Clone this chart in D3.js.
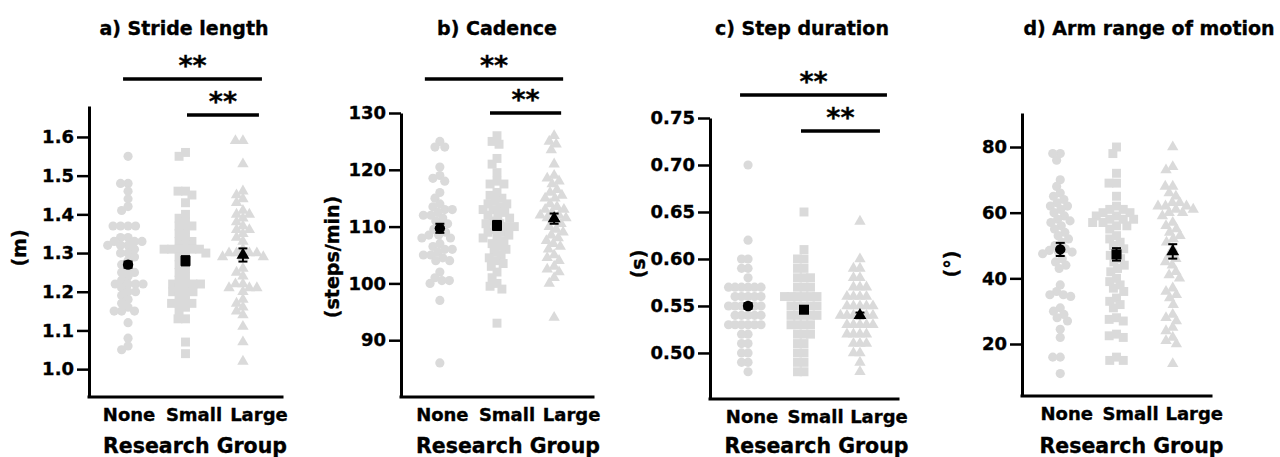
<!DOCTYPE html>
<meta charset="utf-8">
<html>
<head>
<style>
  body { margin: 0; background: #fff; }
  svg text { font-family: "DejaVu Sans", sans-serif; font-weight: bold; fill: #000; stroke: #000; stroke-width: 0.35px; }
</style>
</head>
<body>
<div id="chart"></div>
<script src="https://d3js.org/d3.v7.min.js"></script>
<script>
  var groups = ["None", "Small", "Large"];

  // a) stride length (m)
  var strideNone = [1.55, 1.48, 1.48, 1.46, 1.44, 1.42, 1.41, 1.37, 1.37, 1.37, 1.37, 1.34, 1.34, 1.33, 1.33, 1.33,
    1.32, 1.32, 1.32, 1.31, 1.30, 1.30, 1.29, 1.28, 1.27, 1.26, 1.25, 1.25, 1.24, 1.23, 1.22, 1.22, 1.22, 1.22,
    1.21, 1.20, 1.20, 1.19, 1.18, 1.17, 1.16, 1.15, 1.15, 1.15, 1.12, 1.08, 1.06, 1.05];
  var strideSmall = [1.56, 1.55, 1.46, 1.46, 1.45, 1.43, 1.40, 1.39, 1.38, 1.37, 1.37, 1.36, 1.35, 1.34, 1.33, 1.33,
    1.32, 1.31, 1.31, 1.31, 1.31, 1.31, 1.30, 1.30, 1.29, 1.28, 1.27, 1.26, 1.25, 1.24, 1.23, 1.22, 1.22, 1.22,
    1.22, 1.21, 1.20, 1.20, 1.20, 1.19, 1.18, 1.17, 1.17, 1.17, 1.16, 1.15, 1.13, 1.13, 1.07, 1.04];
  var strideLarge = [1.59, 1.59, 1.53, 1.46, 1.45, 1.44, 1.43, 1.41, 1.40, 1.40, 1.39, 1.38, 1.37, 1.36, 1.36, 1.35,
    1.34, 1.33, 1.31, 1.30, 1.30, 1.30, 1.30, 1.29, 1.29, 1.29, 1.26, 1.25, 1.24, 1.22, 1.22, 1.21, 1.21, 1.21,
    1.20, 1.18, 1.17, 1.16, 1.15, 1.14, 1.11, 1.07, 1.02];
  var strideMean = [1.27, 1.28, 1.295];
  var strideSem = [0.008, 0.012, 0.017];
  var strideTicks = [1.0, 1.1, 1.2, 1.3, 1.4, 1.5, 1.6];

  // b) cadence (steps/min)
  var cadNone = [125, 124, 124, 120.5, 119, 118.5, 118, 116, 115, 114, 113.5, 113, 113, 112.5, 112, 112, 111.5, 111,
    110.5, 110, 109.5, 109, 108.5, 108.5, 108, 108, 107, 106.5, 106, 106, 105.5, 105, 105, 104.5, 104, 104, 102,
    101, 100.5, 100.5, 100, 97, 86];
  var cadSmall = [126, 125, 124.5, 122, 121, 119.5, 118, 117.5, 117.5, 116, 115.5, 115, 114.5, 114, 114, 113.5, 113,
    113, 112.5, 112, 112, 111.5, 111, 110.5, 110.5, 110, 110, 109.5, 109, 109, 108.5, 108, 108, 107.5, 107, 106.5,
    106, 105.5, 105, 104.5, 104, 103.5, 103, 102, 101, 100, 99.5, 99, 93];
  var cadLarge = [126, 125, 124.5, 123.5, 121, 119, 118.5, 118, 117.5, 116.5, 116, 115.5, 115, 115, 114, 113.5, 113,
    113, 112.5, 112, 112, 111.5, 111.5, 111, 110.5, 110, 109.5, 109, 108.5, 108, 107.5, 107, 106.5, 106, 105,
    104.5, 104, 103, 102.5, 102, 101, 100, 94];
  var cadMean = [109.7, 110.2, 111.4];
  var cadSem = [0.8, 0.8, 0.9];
  var cadTicks = [90, 100, 110, 120, 130];

  // c) step duration (s)
  var durNone = [0.70, 0.62, 0.60, 0.60, 0.59, 0.59, 0.58, 0.57, 0.57, 0.57, 0.57, 0.57, 0.57, 0.56, 0.56, 0.56,
    0.56, 0.56, 0.55, 0.55, 0.55, 0.55, 0.55, 0.55, 0.54, 0.54, 0.54, 0.54, 0.54, 0.53, 0.53, 0.53, 0.53, 0.53,
    0.53, 0.52, 0.52, 0.51, 0.51, 0.50, 0.50, 0.49, 0.49, 0.48];
  var durSmall = [0.65, 0.61, 0.60, 0.60, 0.59, 0.59, 0.58, 0.58, 0.58, 0.57, 0.57, 0.57, 0.56, 0.56, 0.56, 0.56,
    0.56, 0.56, 0.55, 0.55, 0.55, 0.55, 0.55, 0.54, 0.54, 0.54, 0.54, 0.54, 0.53, 0.53, 0.53, 0.53, 0.52, 0.52,
    0.52, 0.51, 0.51, 0.50, 0.50, 0.49, 0.49, 0.48, 0.48];
  var durLarge = [0.64, 0.60, 0.59, 0.59, 0.58, 0.58, 0.57, 0.57, 0.57, 0.56, 0.56, 0.56, 0.56, 0.55, 0.55, 0.55,
    0.55, 0.55, 0.54, 0.54, 0.54, 0.54, 0.54, 0.54, 0.53, 0.53, 0.53, 0.53, 0.53, 0.52, 0.52, 0.52, 0.52, 0.51,
    0.51, 0.51, 0.50, 0.50, 0.49, 0.48];
  var durMean = [0.550, 0.546, 0.540];
  var durSem = [0.003, 0.003, 0.003];
  var durTicks = [0.50, 0.55, 0.60, 0.65, 0.70, 0.75];

  // d) arm range of motion (deg)
  var armNone = [78, 78, 76, 70, 68, 66, 65, 64, 63, 62, 62, 61, 60, 59, 58, 57.5, 57, 56, 55, 54, 53, 52, 51, 50,
    49, 48.5, 48, 48, 47.5, 46, 45, 44, 43, 38, 36, 35, 35, 34.5, 31, 30, 29, 28, 27, 24.5, 22, 16, 16, 11];
  var armSmall = [80, 78, 72, 69, 69, 65, 62, 61, 61, 60, 60, 59, 59, 58, 58, 58, 57, 57, 56, 56, 55, 53, 52, 51,
    50, 49, 48, 47, 46, 45, 44, 43, 42, 40, 39, 38, 37, 36, 34, 33, 32, 31, 28, 27.5, 27, 23, 22.5, 22, 16, 15, 15];
  var armLarge = [80, 74, 73, 68, 68, 66, 65, 63, 63, 62, 62, 62, 61, 61, 60, 60, 59, 57, 56, 55, 54, 53, 52, 51,
    49, 47, 46, 45, 44, 42, 41, 40, 37, 36, 35, 34, 32, 29, 28, 27, 25, 24, 22, 21, 20, 14];
  var armMean = [48.8, 47.3, 48.2];
  var armSem = [2.0, 1.9, 2.2];
  var armTicks = [20, 40, 60, 80];

  var panels = [
    { title: "a) Stride length", titleX: 184, yLabel: "(m)", yLabelX: 19, yLabelY: 248,
      left: 89, right: 282, top: 106, bottom: 397, domain: [0.928, 1.68],
      ticks: strideTicks, fmt: d3.format(".1f"), labShift: 1, gap: 7.5,
      values: [strideNone, strideSmall, strideLarge], mean: strideMean, sem: strideSem,
      sig: [{ a: "None", b: "Large", level: 1.75, dl: -5, dr: 19 },
            { a: "Small", b: "Large", level: 1.657, dl: 1.5, dr: 16 }] },
    { title: "b) Cadence", titleX: 497, yLabel: "(steps/min)", yLabelX: 332, yLabelY: 257,
      left: 401, right: 593, top: 113, bottom: 397, domain: [80, 130],
      ticks: cadTicks, fmt: d3.format("d"), labShift: 2.5, gap: 7.5,
      values: [cadNone, cadSmall, cadLarge], mean: cadMean, sem: cadSem,
      sig: [{ a: "None", b: "Large", level: 136, dl: -15, dr: 9 },
            { a: "Small", b: "Large", level: 130, dl: -7, dr: 7 }] },
    { title: "c) Step duration", titleX: 802, yLabel: "(s)", yLabelX: 638, yLabelY: 264,
      left: 710, right: 898, top: 118, bottom: 399, domain: [0.451, 0.75],
      ticks: durTicks, fmt: d3.format(".2f"), labShift: 4, gap: 6.5,
      values: [durNone, durSmall, durLarge], mean: durMean, sem: durSem,
      sig: [{ a: "None", b: "Large", level: 0.7745, dl: -8, dr: 27 },
            { a: "Small", b: "Large", level: 0.7362, dl: -3, dr: 20 }] },
    { title: "d) Arm range of motion", titleX: 1149, yLabel: "(\u00b0)", yLabelX: 951, yLabelY: 264,
      left: 1022, right: 1211, top: 113, bottom: 396, domain: [4.16, 90.36],
      ticks: armTicks, fmt: d3.format("d"), labShift: 6.5, gap: 7.5,
      values: [armNone, armSmall, armLarge], mean: armMean, sem: armSem,
      sig: [] }
  ];

  var shapes = [d3.symbolCircle, d3.symbolSquare, d3.symbolTriangle];
  var dotSize = [66, 80, 56];
  var meanSize = [85, 100, 72];

  // simple beeswarm: each point goes to the smallest offset that doesn't collide
  function swarm(vals, y, d) {
    var placed = [];
    vals.map(function(v) { return { v: v, y: y(v) }; })
      .sort(function(a, b) { return a.y - b.y; })
      .forEach(function(p) {
        var near = placed.filter(function(q) { return Math.abs(q.y - p.y) < d; });
        var cand = [0];
        near.forEach(function(q) {
          var w = Math.sqrt(d * d - (q.y - p.y) * (q.y - p.y));
          cand.push(q.x - w, q.x + w);
        });
        cand.sort(function(a, b) { return Math.abs(a) - Math.abs(b); });
        p.x = cand.find(function(c) {
          return near.every(function(q) { return (q.x - c) * (q.x - c) + (q.y - p.y) * (q.y - p.y) >= d * d - 1e-6; });
        });
        placed.push(p);
      });
    return placed;
  }

  var svg = d3.select("#chart").append("svg")
    .attr("width", 1280).attr("height", 457);

  panels.forEach(function(p) {
    var g = svg.append("g");
    var x = d3.scalePoint().domain(groups).range([p.left, p.right]).padding(0.68);
    var y = d3.scaleLinear().domain(p.domain).range([p.bottom, p.top]);

    // grey swarm
    p.values.forEach(function(vals, i) {
      var pts = swarm(vals, y, p.gap);
      g.selectAll(null).data(pts).enter().append("path")
        .attr("d", d3.symbol().type(shapes[i]).size(dotSize[i]))
        .attr("transform", function(d) { return "translate(" + (x(groups[i]) + d.x) + "," + d.y + ")"; })
        .attr("fill", "#dadada");
    });

    // mean + sem
    groups.forEach(function(grp, i) {
      var cx = x(grp);
      var lo = y(p.mean[i] - p.sem[i]), hi = y(p.mean[i] + p.sem[i]);
      g.append("line").attr("x1", cx).attr("x2", cx).attr("y1", lo).attr("y2", hi)
        .attr("stroke", "#000").attr("stroke-width", 2);
      [lo, hi].forEach(function(yy) {
        g.append("line").attr("x1", cx - 4.5).attr("x2", cx + 4.5).attr("y1", yy).attr("y2", yy)
          .attr("stroke", "#000").attr("stroke-width", 2);
      });
      g.append("path")
        .attr("d", d3.symbol().type(shapes[i]).size(meanSize[i]))
        .attr("transform", "translate(" + cx + "," + y(p.mean[i]) + ")")
        .attr("fill", "#000");
    });

    // axes
    var ax = g.append("g")
      .attr("transform", "translate(" + p.left + ",0)")
      .call(d3.axisLeft(y).tickValues(p.ticks).tickFormat(p.fmt).tickSize(12).tickSizeOuter(0).tickPadding(3));
    ax.select(".domain").attr("stroke-width", 3).attr("stroke", "#000");
    ax.selectAll(".tick line").attr("stroke-width", 2.5).attr("stroke", "#000");
    ax.selectAll(".tick text").attr("font-size", 18)
      .style("font-family", "'DejaVu Sans', sans-serif").style("font-weight", "bold");

    g.append("line")
      .attr("x1", p.left).attr("x2", p.right).attr("y1", p.bottom).attr("y2", p.bottom)
      .attr("stroke", "#000").attr("stroke-width", 3).attr("stroke-linecap", "square");

    // category labels
    var labX = groups.map(function(grp, i) { return x(grp) + p.labShift + i * 7.5; });
    g.selectAll(null).data(groups).enter().append("text")
      .attr("x", function(d, i) { return labX[i]; })
      .attr("y", p.bottom + 24)
      .attr("text-anchor", "middle")
      .attr("font-size", 18)
      .text(function(d) { return d; });

    g.append("text")
      .attr("x", (labX[0] + labX[2]) / 2 + 1)
      .attr("y", 453)
      .attr("text-anchor", "middle")
      .attr("font-size", 20.5)
      .text("Research Group");

    g.append("text")
      .attr("transform", "translate(" + p.yLabelX + "," + p.yLabelY + ") rotate(-90)")
      .attr("text-anchor", "middle")
      .attr("dominant-baseline", "central")
      .attr("font-size", 19)
      .text(p.yLabel);

    g.append("text")
      .attr("x", p.titleX).attr("y", 34.5)
      .attr("text-anchor", "middle")
      .attr("font-size", 19)
      .text(p.title);

    // significance bars
    p.sig.forEach(function(s) {
      var x1 = x(s.a) + s.dl, x2 = x(s.b) + s.dr, yy = y(s.level);
      g.append("line").attr("x1", x1).attr("x2", x2).attr("y1", yy).attr("y2", yy)
        .attr("stroke", "#000").attr("stroke-width", 3.5);
      g.append("text")
        .attr("x", (x1 + x2) / 2).attr("y", yy - 18 + 14)
        .attr("text-anchor", "middle")
        .attr("font-size", 27)
        .text("**");
    });
  });
</script>
</body>
</html>
